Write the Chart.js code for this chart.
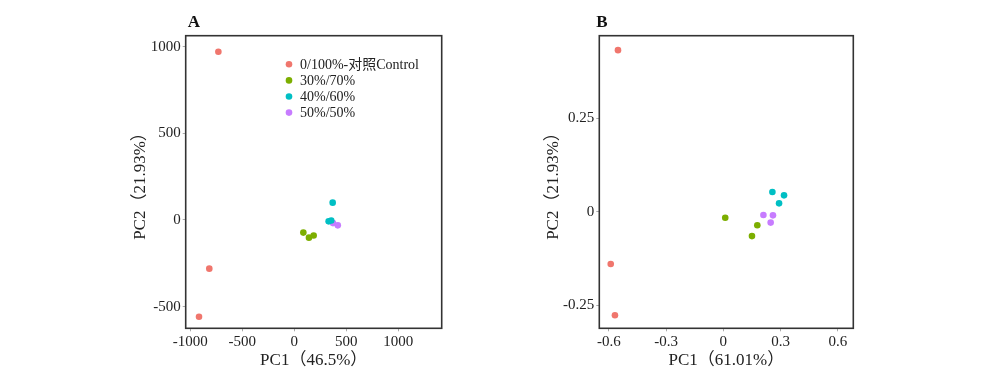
<!DOCTYPE html>
<html>
<head>
<meta charset="utf-8">
<script src="https://cdn.jsdelivr.net/npm/chart.js@4.4.1/dist/chart.umd.min.js"></script>
<style>
  html, body { margin: 0; padding: 0; background: #fff; }
  body { width: 1000px; height: 375px; position: relative; overflow: hidden; }
  .wrap { position: absolute; top: 0; height: 375px; }
  #wa { left: 100px; width: 360px; }
  #wb { left: 510px; width: 370px; }
</style>
</head>
<body>
<div class="wrap" id="wa"><canvas id="ca"></canvas></div>
<div class="wrap" id="wb"><canvas id="cb"></canvas></div>
<script>
// ---- Data ----
const groupLabels = ['0/100%-对照Control', '30%/70%', '40%/60%', '50%/50%'];
const groupColors = ['#F0766D', '#7CAE00', '#00BFC4', '#C77CFF'];

// Panel A (PC1 46.5%, PC2 21.93%)
const aControl = [[-730, 970], [-817, -281], [-916, -558]];
const a30 = [[87, -73], [141, -102], [186, -90]];
const a40 = [[369, 100], [330, -8], [355, -3]];
const a50 = [[372, -18], [418, -31]];
const aXTicks = [-1000, -500, 0, 500, 1000];
const aYTicks = [-500, 0, 500, 1000];

// Panel B (PC1 61.01%, PC2 21.93%)
const bControl = [[-0.552, 0.431], [-0.590, -0.1395], [-0.568, -0.276]];
const b30 = [[0.010, -0.016], [0.178, -0.036], [0.150, -0.065]];
const b40 = [[0.257, 0.0525], [0.318, 0.0437], [0.292, 0.0224]];
const b50 = [[0.210, -0.0088], [0.260, -0.0097], [0.248, -0.029]];
const bXTicks = [-0.6, -0.3, 0, 0.3, 0.6];
const bYTicks = [-0.25, 0, 0.25];

const FONT = '"Liberation Serif", "Times New Roman", "Noto Sans CJK SC", serif';

function toPts(arr) { return arr.map(p => ({x: p[0], y: p[1]})); }

function makeDatasets(groups) {
  return groups.map((g, i) => ({
    label: groupLabels[i],
    data: toPts(g),
    backgroundColor: groupColors[i],
    borderColor: groupColors[i],
    borderWidth: 0,
    pointRadius: 3.3,
    pointHoverRadius: 3.3
  }));
}

const framePlugin = {
  id: 'frame',
  afterDatasetsDraw(chart, args, opts) {
    const {ctx, chartArea: a} = chart;
    ctx.save();
    ctx.strokeStyle = '#333';
    ctx.lineWidth = 1.6;
    ctx.strokeRect(a.left, a.top, a.right - a.left, a.bottom - a.top);
    // panel letter
    ctx.fillStyle = '#111';
    ctx.font = 'bold 17px ' + FONT;
    ctx.textAlign = 'center';
    ctx.textBaseline = 'middle';
    ctx.fillText(opts.letter, opts.letterX, 23);
    // legend
    if (opts.legend) {
      const lg = opts.legend;
      ctx.font = '14px ' + FONT;
      ctx.textAlign = 'left';
      chart.data.datasets.forEach((ds, i) => {
        const y = lg.y + i * lg.step;
        ctx.beginPath();
        ctx.fillStyle = ds.backgroundColor;
        ctx.arc(lg.x, y, 3.3, 0, Math.PI * 2);
        ctx.fill();
        ctx.fillStyle = '#222';
        ctx.fillText(ds.label, lg.x + 11, y + 1);
      });
    }
    ctx.restore();
  }
};

function makeChart(id, groups, cfg) {
  const fixTicks = vals => scale => { scale.ticks = vals.map(v => ({value: v})); };
  return new Chart(document.getElementById(id), {
    type: 'scatter',
    data: { datasets: makeDatasets(groups) },
    options: {
      responsive: true,
      maintainAspectRatio: false,
      animation: false,
      events: [],
      layout: { padding: { top: cfg.top, left: cfg.padLeft, right: cfg.padRight, bottom: 0 } },
      plugins: {
        legend: { display: false },
        tooltip: { enabled: false },
        frame: { letter: cfg.letter, letterX: cfg.letterX, legend: cfg.legend }
      },
      scales: {
        x: {
          type: 'linear',
          min: cfg.xMin, max: cfg.xMax,
          afterBuildTicks: fixTicks(cfg.xTicks),
          afterFit: s => { s.height = cfg.xAxisH; },
          border: { display: false },
          grid: { drawOnChartArea: false, tickLength: 3, tickColor: '#aaa', lineWidth: 1 },
          ticks: { color: '#222', font: { family: FONT, size: 15 }, padding: 2, maxRotation: 0,
                   callback: v => String(v) },
          title: { display: true, text: cfg.xTitle, color: '#222',
                   font: { family: FONT, size: 17 }, padding: { top: 0, bottom: 4 } }
        },
        y: {
          type: 'linear',
          min: cfg.yMin, max: cfg.yMax,
          afterBuildTicks: fixTicks(cfg.yTicks),
          afterFit: s => { s.width = cfg.yAxisW; },
          border: { display: false },
          grid: { drawOnChartArea: false, tickLength: 3, tickColor: '#aaa', lineWidth: 1 },
          ticks: { color: '#222', font: { family: FONT, size: 15 }, padding: 2,
                   callback: v => String(v) },
          title: { display: true, text: 'PC2（21.93%）', color: '#222',
                   font: { family: FONT, size: 17 }, padding: { top: 8, bottom: 0 } }
        }
      }
    },
    plugins: [framePlugin]
  });
}

makeChart('ca', [aControl, a30, a40, a50], {
  letter: 'A', letterX: 94,
  top: 35.7, padLeft: 22, padRight: 18.3, yAxisW: 63.7, xAxisH: 46.7,
  xMin: -1044, xMax: 1417, yMin: -625, yMax: 1063,
  xTicks: aXTicks, yTicks: aYTicks, xTitle: 'PC1（46.5%）',
  legend: { x: 189, y: 64.3, step: 16.1 }
});

makeChart('cb', [bControl, b30, b40, b50], {
  letter: 'B', letterX: 92,
  top: 35.7, padLeft: 25.3, padRight: 26.7, yAxisW: 64, xAxisH: 46.7,
  xMin: -0.650, xMax: 0.681, yMin: -0.311, yMax: 0.4696,
  xTicks: bXTicks, yTicks: bYTicks, xTitle: 'PC1（61.01%）',
  legend: null
});
</script>
</body>
</html>
